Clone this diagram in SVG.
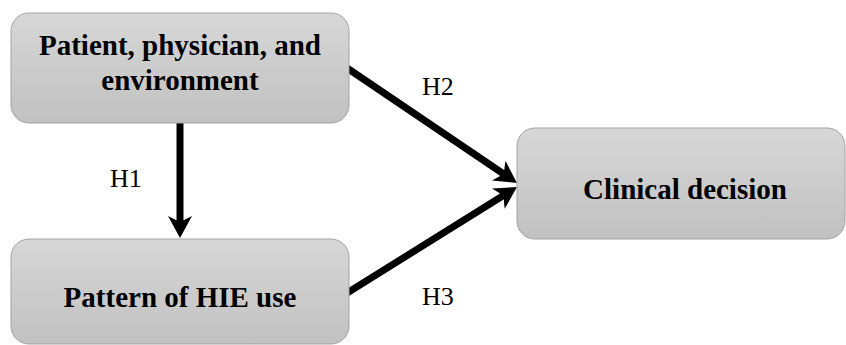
<svg xmlns="http://www.w3.org/2000/svg" width="846" height="345" viewBox="0 0 846 345">
<defs>
<linearGradient id="g" x1="0" y1="0" x2="0" y2="1">
<stop offset="0" stop-color="#d7d7d7"/>
<stop offset="1" stop-color="#c1c1c1"/>
</linearGradient>
<marker id="ah" markerUnits="userSpaceOnUse" markerWidth="24" markerHeight="26" viewBox="0 -13 24 26" refX="6" refY="0" orient="auto">
<path d="M0,-12 L22,0 L0,12 L6,0 Z" fill="#000"/>
</marker>
<style>
.box{fill:url(#g);stroke:#a3a3a3;stroke-width:1}
.nt{font-family:'Liberation Serif','Times New Roman',Tinos,'DejaVu Serif',serif;font-weight:bold;font-size:29px;fill:#000;text-anchor:middle}
.lb{font-family:'Liberation Serif','Times New Roman',Tinos,'DejaVu Serif',serif;font-size:26px;fill:#000}
.ed{stroke:#000;stroke-width:7;fill:none;marker-end:url(#ah)}
</style>
</defs>
<rect width="846" height="345" fill="#fff"/>
<g id="connectors">
<line class="ed" x1="180" y1="123" x2="180" y2="222"/>
<line class="ed" x1="347" y1="68" x2="503.7" y2="174"/>
<line class="ed" x1="347" y1="293" x2="503.4" y2="195.5"/>
<text class="lb" x="110" y="187">H1</text>
<text class="lb" x="422" y="95">H2</text>
<text class="lb" x="422" y="305">H3</text>
</g>
<g id="node-patient">
<rect class="box" x="11" y="13" width="338" height="110" rx="18"/>
<text class="nt" x="180" y="55">Patient, physician, and</text>
<text class="nt" x="180" y="90">environment</text>
</g>
<g id="node-pattern">
<rect class="box" x="11" y="239" width="338" height="105" rx="18"/>
<text class="nt" x="180" y="307">Pattern of HIE use</text>
</g>
<g id="node-clinical">
<rect class="box" x="517" y="128" width="328" height="111" rx="18"/>
<text class="nt" x="685" y="199">Clinical decision</text>
</g>
</svg>
